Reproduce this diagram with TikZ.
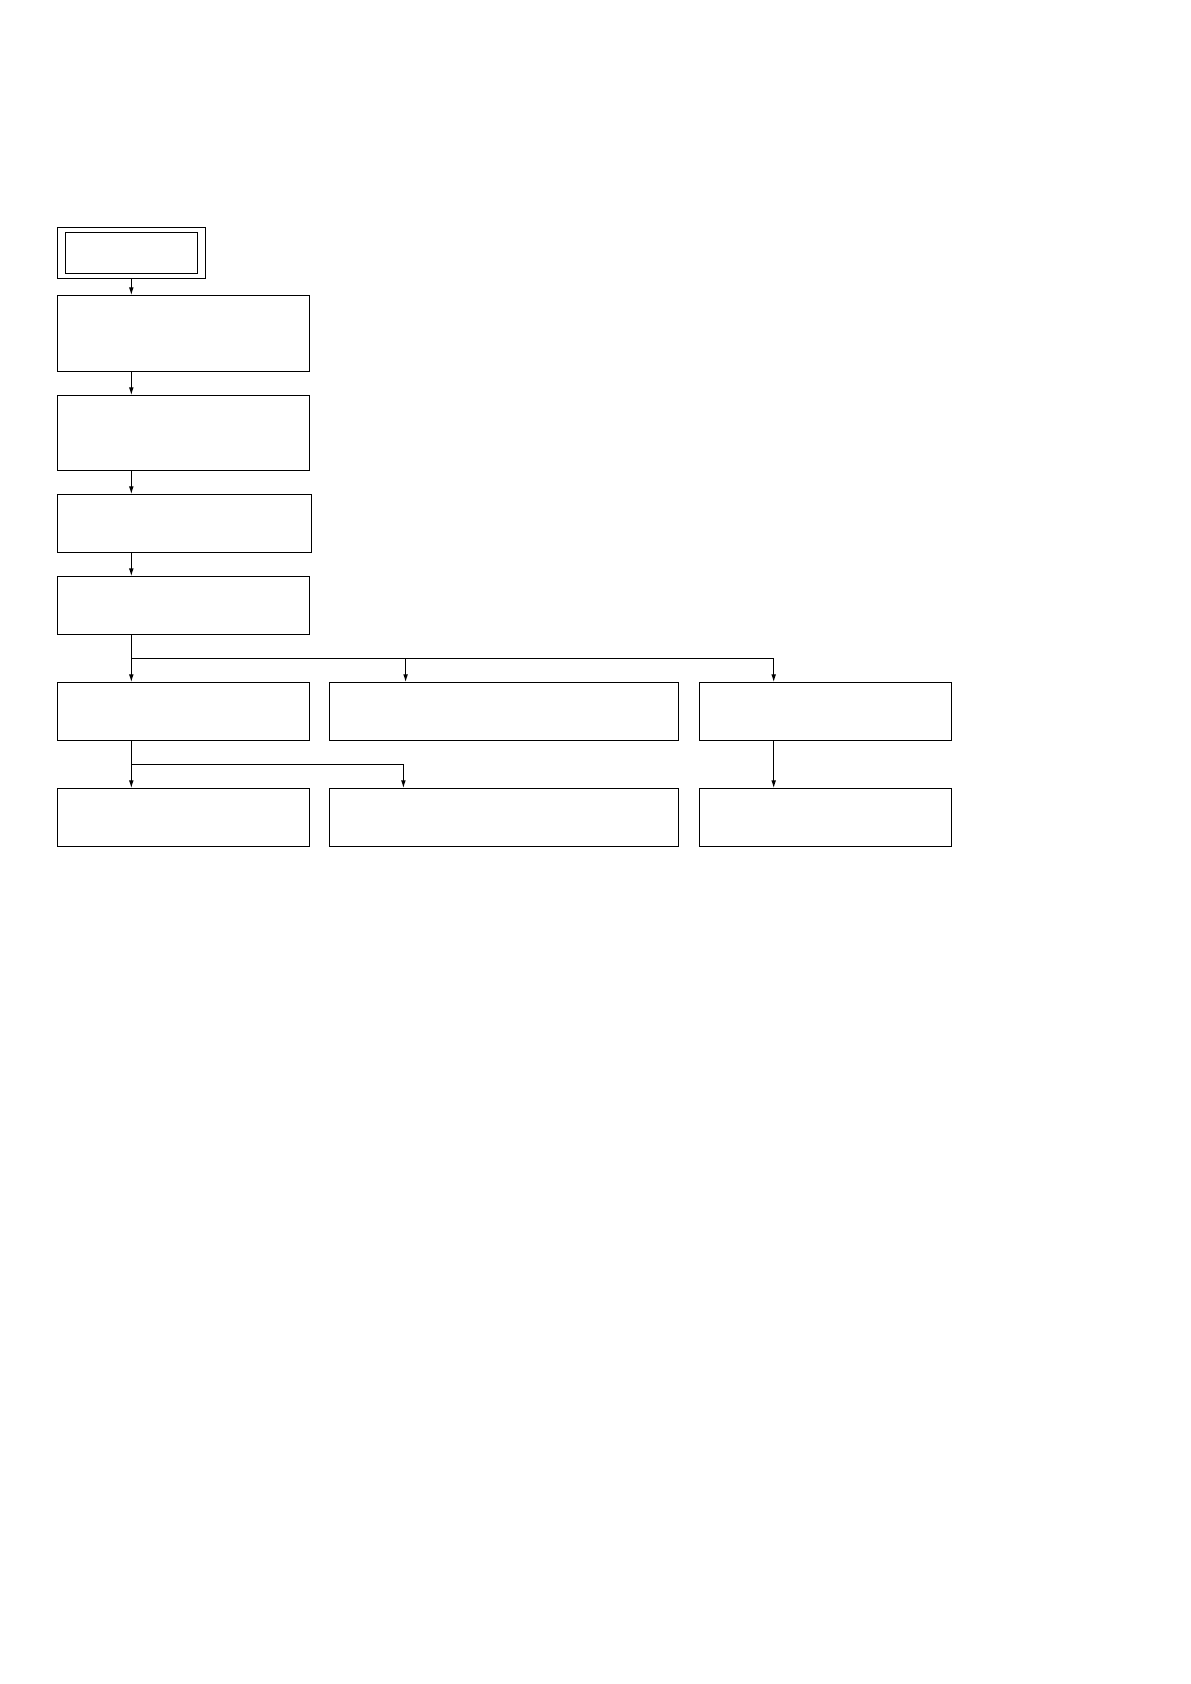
\documentclass[tikz,border=0pt]{standalone}
\usepackage{tikz}
\usetikzlibrary{arrows.meta}

\begin{document}
\begin{tikzpicture}[x=0.5pt,y=-0.5pt,
  line width=0.6pt,
  blk/.style={draw, rectangle, inner sep=0pt, outer sep=0pt, minimum height=29pt},
  arr/.style={-{Latex[length=4pt,width=2.4pt]}}]
\useasboundingbox (0,0) rectangle (1190,1684);

\node[blk, minimum width=74.2pt, minimum height=25.7pt] (start) at (131.5,253) {};
\node[blk, minimum width=66.2pt, minimum height=20.3pt] (startin) at (131.5,253) {};

\node[blk, minimum width=126.2pt, minimum height=38.2pt] (b1) at (183.5,333.5) {};
\node[blk, minimum width=126.2pt, minimum height=37.5pt] (b2) at (183.5,432.8) {};
\node[blk, minimum width=127.2pt] (b3) at (184.5,523.3) {};
\node[blk, minimum width=126.2pt] (b4) at (183.5,605.4) {};

\node[blk, minimum width=126.2pt] (r1a) at (183.5,711.3) {};
\node[blk, minimum width=174.3pt] (r1b) at (503.8,711.3) {};
\node[blk, minimum width=126.2pt] (r1c) at (825.5,711.3) {};

\node[blk, minimum width=126.2pt] (r2a) at (183.5,817.3) {};
\node[blk, minimum width=174.3pt] (r2b) at (503.8,817.3) {};
\node[blk, minimum width=126.2pt] (r2c) at (825.5,817.3) {};

\coordinate (s1) at (131.3,658.3);
\coordinate (tB) at (405.6,658.3);
\coordinate (tC) at (773.7,658.3);
\coordinate (s2) at (131.3,764.3);
\coordinate (t2B) at (403.4,764.3);

\draw[arr] (start.south -| s1) -- (b1.north -| s1);
\draw[arr] (b1.south -| s1) -- (b2.north -| s1);
\draw[arr] (b2.south -| s1) -- (b3.north -| s1);
\draw[arr] (b3.south -| s1) -- (b4.north -| s1);

\draw[arr] (b4.south -| s1) -- (r1a.north -| s1);
\draw (s1) -- (tC);
\draw[arr] (tB) -- (tB |- r1b.north);
\draw[arr] (tC) -- (tC |- r1c.north);

\draw[arr] (r1a.south -| s2) -- (r2a.north -| s2);
\draw (s2) -- (t2B);
\draw[arr] (t2B) -- (t2B |- r2b.north);
\draw[arr] (r1c.south -| tC) -- (r2c.north -| tC);
\end{tikzpicture}
\end{document}
